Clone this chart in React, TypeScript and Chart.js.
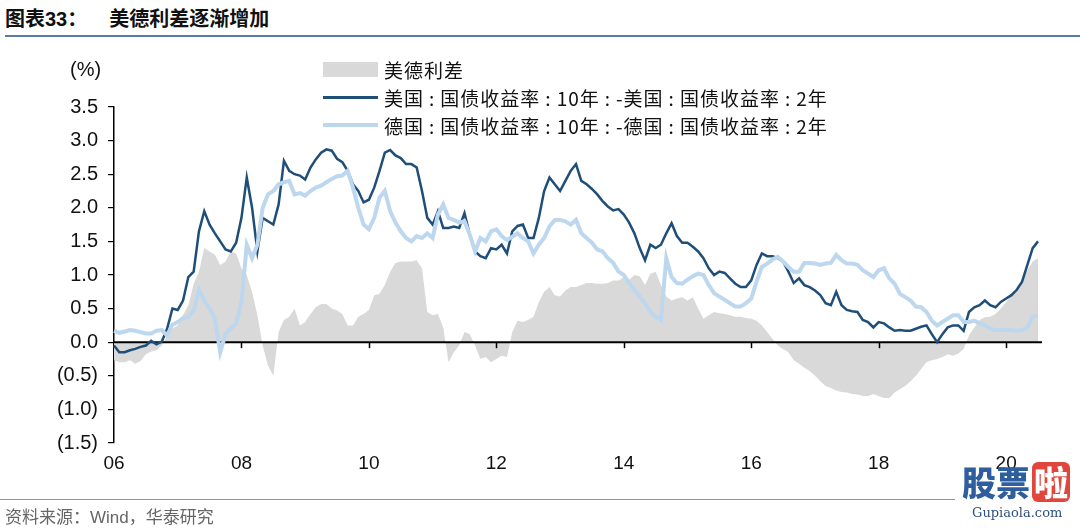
import React, { useEffect, useRef } from 'react';
import { Chart, registerables } from 'chart.js';

Chart.register(...registerables);

const months = [
  '2006-01','2006-02','2006-03','2006-04','2006-05','2006-06','2006-07','2006-08','2006-09','2006-10','2006-11','2006-12',
  '2007-01','2007-02','2007-03','2007-04','2007-05','2007-06','2007-07','2007-08','2007-09','2007-10','2007-11','2007-12',
  '2008-01','2008-02','2008-03','2008-04','2008-05','2008-06','2008-07','2008-08','2008-09','2008-10','2008-11','2008-12',
  '2009-01','2009-02','2009-03','2009-04','2009-05','2009-06','2009-07','2009-08','2009-09','2009-10','2009-11','2009-12',
  '2010-01','2010-02','2010-03','2010-04','2010-05','2010-06','2010-07','2010-08','2010-09','2010-10','2010-11','2010-12',
  '2011-01','2011-02','2011-03','2011-04','2011-05','2011-06','2011-07','2011-08','2011-09','2011-10','2011-11','2011-12',
  '2012-01','2012-02','2012-03','2012-04','2012-05','2012-06','2012-07','2012-08','2012-09','2012-10','2012-11','2012-12',
  '2013-01','2013-02','2013-03','2013-04','2013-05','2013-06','2013-07','2013-08','2013-09','2013-10','2013-11','2013-12',
  '2014-01','2014-02','2014-03','2014-04','2014-05','2014-06','2014-07','2014-08','2014-09','2014-10','2014-11','2014-12',
  '2015-01','2015-02','2015-03','2015-04','2015-05','2015-06','2015-07','2015-08','2015-09','2015-10','2015-11','2015-12',
  '2016-01','2016-02','2016-03','2016-04','2016-05','2016-06','2016-07','2016-08','2016-09','2016-10','2016-11','2016-12',
  '2017-01','2017-02','2017-03','2017-04','2017-05','2017-06','2017-07','2017-08','2017-09','2017-10','2017-11','2017-12',
  '2018-01','2018-02','2018-03','2018-04','2018-05','2018-06','2018-07','2018-08','2018-09','2018-10','2018-11','2018-12',
  '2019-01','2019-02','2019-03','2019-04','2019-05','2019-06','2019-07','2019-08','2019-09','2019-10','2019-11','2019-12',
  '2020-01','2020-02','2020-03','2020-04','2020-05','2020-06','2020-07',
];

// 美国:国债收益率:10年 - 美国:国债收益率:2年 (%)
const usSpread = [
  -0.05, -0.15, -0.15, -0.12, -0.10, -0.07, -0.05, 0.02, -0.03, 0.01,
  0.20, 0.50, 0.48, 0.62, 0.97, 1.05, 1.65, 1.95, 1.75, 1.62,
  1.50, 1.38, 1.35, 1.48, 1.85, 2.45, 2.00, 1.35, 1.85, 1.80,
  1.75, 2.05, 2.70, 2.55, 2.50, 2.48, 2.42, 2.60, 2.72, 2.82,
  2.87, 2.85, 2.73, 2.68, 2.55, 2.35, 2.25, 2.08, 2.12, 2.30,
  2.55, 2.82, 2.86, 2.78, 2.74, 2.65, 2.65, 2.60, 2.25, 1.85,
  1.75, 1.95, 1.70, 1.70, 1.72, 1.70, 1.92, 1.60, 1.35, 1.28,
  1.25, 1.40, 1.38, 1.45, 1.32, 1.65, 1.73, 1.75, 1.55, 1.55,
  1.85, 2.25, 2.45, 2.35, 2.25, 2.40, 2.55, 2.65, 2.40, 2.35,
  2.28, 2.20, 2.10, 2.02, 1.96, 1.98, 1.90, 1.78, 1.62, 1.40,
  1.22, 1.45, 1.40, 1.45, 1.62, 1.77, 1.58, 1.48, 1.48, 1.42,
  1.35, 1.25, 1.10, 1.00, 1.05, 1.03, 0.95, 0.87, 0.82, 0.82,
  0.92, 1.15, 1.32, 1.28, 1.28, 1.25, 1.20, 1.05, 0.88, 0.95,
  0.85, 0.82, 0.77, 0.70, 0.58, 0.55, 0.75, 0.55, 0.48, 0.46,
  0.45, 0.33, 0.30, 0.22, 0.30, 0.28, 0.22, 0.17, 0.18, 0.17,
  0.17, 0.20, 0.23, 0.25, 0.12, 0.00, 0.12, 0.22, 0.25, 0.25,
  0.17, 0.45, 0.52, 0.55, 0.62, 0.55, 0.52, 0.60, 0.65, 0.70,
  0.78, 0.90, 1.15, 1.40, 1.50,
];

// 德国:国债收益率:10年 - 德国:国债收益率:2年 (%)
const deSpread = [
  0.17, 0.14, 0.16, 0.18, 0.17, 0.15, 0.13, 0.13, 0.17, 0.18,
  0.10, 0.26, 0.30, 0.36, 0.38, 0.47, 0.78, 0.62, 0.50, 0.35,
  -0.15, 0.12, 0.20, 0.28, 0.60, 1.45, 1.25, 1.45, 2.00, 2.20,
  2.25, 2.35, 2.38, 2.40, 2.20, 2.22, 2.18, 2.25, 2.30, 2.33,
  2.38, 2.43, 2.47, 2.48, 2.55, 2.30, 2.00, 1.75, 1.68, 1.85,
  2.15, 2.25, 1.95, 1.78, 1.65, 1.55, 1.50, 1.58, 1.55, 1.62,
  1.55, 1.90, 2.05, 1.85, 1.82, 1.78, 1.80, 1.60, 1.35, 1.55,
  1.50, 1.65, 1.68, 1.58, 1.52, 1.57, 1.62, 1.55, 1.50, 1.32,
  1.45, 1.55, 1.72, 1.82, 1.82, 1.80, 1.75, 1.82, 1.62, 1.55,
  1.48, 1.38, 1.35, 1.25, 1.18, 1.05, 1.00, 0.88, 0.78, 0.68,
  0.58, 0.45, 0.38, 0.33, 1.25, 0.97, 0.88, 0.87, 0.93, 0.98,
  1.02, 1.00, 0.85, 0.73, 0.68, 0.63, 0.58, 0.53, 0.53, 0.58,
  0.65, 0.90, 1.12, 1.17, 1.23, 1.27, 1.20, 1.12, 1.05, 1.05,
  1.18, 1.18, 1.17, 1.15, 1.17, 1.18, 1.30, 1.22, 1.17, 1.17,
  1.15, 1.07, 1.02, 0.97, 1.07, 1.10, 0.95, 0.87, 0.72, 0.67,
  0.62, 0.53, 0.52, 0.45, 0.32, 0.25, 0.30, 0.35, 0.40, 0.40,
  0.30, 0.30, 0.32, 0.28, 0.25, 0.20, 0.18, 0.18, 0.18, 0.18,
  0.17, 0.18, 0.22, 0.38, 0.40,
];

// 美德利差 (%)
const usDeGap = [
  -0.27, -0.30, -0.30, -0.27, -0.32, -0.28, -0.18, -0.14, -0.12, -0.05,
  0.08, 0.20, 0.25, 0.40, 0.55, 0.87, 1.05, 1.40, 1.35, 1.30,
  1.15, 1.20, 1.35, 1.32, 1.10, 1.00, 0.75, 0.40, -0.05, -0.35,
  -0.50, 0.15, 0.33, 0.38, 0.50, 0.25, 0.30, 0.42, 0.52, 0.57,
  0.57, 0.50, 0.47, 0.42, 0.25, 0.25, 0.38, 0.42, 0.48, 0.70,
  0.72, 0.85, 1.05, 1.18, 1.20, 1.20, 1.20, 1.22, 1.10, 0.45,
  0.40, 0.42, 0.22, -0.30, -0.15, -0.05, 0.15, 0.12, -0.05, -0.25,
  -0.22, -0.30, -0.25, -0.20, -0.22, 0.15, 0.32, 0.30, 0.33, 0.38,
  0.60, 0.75, 0.82, 0.70, 0.68, 0.77, 0.82, 0.82, 0.85, 0.88,
  0.88, 0.87, 0.87, 0.88, 0.92, 0.92, 0.97, 0.93, 1.00, 0.98,
  0.85, 1.02, 1.05, 0.85, 0.68, 0.62, 0.65, 0.67, 0.62, 0.67,
  0.50, 0.35, 0.40, 0.45, 0.43, 0.42, 0.40, 0.38, 0.38, 0.36,
  0.35, 0.32, 0.25, 0.15, 0.05, -0.05, -0.10, -0.15, -0.27, -0.32,
  -0.38, -0.43, -0.50, -0.58, -0.65, -0.68, -0.72, -0.74, -0.75, -0.77,
  -0.78, -0.80, -0.80, -0.77, -0.80, -0.83, -0.83, -0.75, -0.70, -0.65,
  -0.58, -0.50, -0.40, -0.30, -0.27, -0.25, -0.22, -0.18, -0.20, -0.17,
  -0.10, 0.10, 0.22, 0.33, 0.37, 0.38, 0.42, 0.50, 0.60, 0.70,
  0.77, 0.90, 1.07, 1.20, 1.25,
];

const xTickMonths = ['2006-01', '2008-01', '2010-01', '2012-01', '2014-01', '2016-01', '2018-01', '2020-01'];
const xTickText = ['06', '08', '10', '12', '14', '16', '18', '20'];

const seriesNames = [
  '美德利差',
  '美国:国债收益率:10年:-美国:国债收益率:2年',
  '德国:国债收益率:10年:-德国:国债收益率:2年',
];

const GRAY = '#D9D9D9';
const NAVY = '#1F4E79';
const LIGHT = '#BDD7EE';
const NUM_FONT = '"Liberation Sans", Arial, sans-serif';
const CJK_FONT = '"Noto Sans CJK SC", "Liberation Sans", sans-serif';

const zeroAxisPlugin = {
  id: 'zeroAxis',
  afterDatasetDraw(chart: any, args: any) {
    if (args.index !== 0) return;
    const { ctx, chartArea, scales } = chart;
    const y0 = scales.y.getPixelForValue(0);
    ctx.save();
    ctx.strokeStyle = '#000';
    ctx.lineWidth = 2;
    ctx.beginPath();
    ctx.moveTo(chartArea.left, y0);
    ctx.lineTo(chartArea.right + 4, y0);
    ctx.stroke();
    ctx.lineWidth = 1.5;
    xTickMonths.forEach((m) => {
      const i = months.indexOf(m);
      if (i <= 0) return;
      const x = Math.round(scales.x.getPixelForValue(i)) + 0.5;
      ctx.beginPath();
      ctx.moveTo(x, y0);
      ctx.lineTo(x, y0 + 6);
      ctx.stroke();
    });
    ctx.restore();
  },
};

function LegendText({ text }: { text: string }) {
  const parts = text.split(':');
  return (
    <span>
      {parts.map((p, i) => (
        <React.Fragment key={i}>
          {i > 0 && <span style={{ margin: '0 5px' }}>:</span>}
          {p}
        </React.Fragment>
      ))}
    </span>
  );
}

export default function App() {
  const canvasRef = useRef<HTMLCanvasElement | null>(null);

  useEffect(() => {
    if (!canvasRef.current) return;
    const chart = new Chart(canvasRef.current, {
      type: 'line',
      data: {
        labels: months,
        datasets: [
          {
            label: seriesNames[0],
            data: usDeGap,
            borderWidth: 0,
            borderColor: GRAY,
            backgroundColor: GRAY,
            fill: 'origin',
            pointRadius: 0,
            tension: 0,
            order: 3,
          },
          {
            label: seriesNames[1],
            data: usSpread,
            borderColor: NAVY,
            borderWidth: 2.5,
            fill: false,
            pointRadius: 0,
            tension: 0,
            order: 2,
          },
          {
            label: seriesNames[2],
            data: deSpread,
            borderColor: LIGHT,
            borderWidth: 4,
            fill: false,
            pointRadius: 0,
            tension: 0,
            order: 1,
          },
        ],
      },
      options: {
        animation: false,
        responsive: false,
        layout: { padding: { left: 0, right: 42, top: 107, bottom: 45 } },
        plugins: {
          legend: { display: false },
          title: { display: false },
          tooltip: { enabled: false },
        },
        scales: {
          x: {
            type: 'category',
            grid: { display: false, drawTicks: false },
            border: { display: false },
            afterFit: (s: any) => {
              s.height = 40;
            },
            ticks: {
              autoSkip: false,
              maxRotation: 0,
              minRotation: 0,
              padding: 9,
              color: '#111',
              font: { family: NUM_FONT, size: 19 },
              callback: (_v: any, index: number) => {
                const k = xTickMonths.indexOf(months[index]);
                return k >= 0 ? xTickText[k] : '';
              },
            },
          },
          y: {
            min: -1.5,
            max: 3.5,
            afterFit: (s: any) => {
              s.width = 114;
            },
            grid: {
              drawOnChartArea: false,
              drawTicks: true,
              tickLength: 6,
              color: '#000',
              lineWidth: 1.2,
            },
            border: { display: true, color: '#000', width: 1.5 },
            ticks: {
              stepSize: 0.5,
              padding: 10,
              color: '#111',
              font: { family: NUM_FONT, size: 20 },
              callback: (v: any) => {
                const n = Number(v);
                return n < 0 ? `(${Math.abs(n).toFixed(1)})` : n.toFixed(1);
              },
            },
          },
        },
      },
      plugins: [zeroAxisPlugin],
    } as any);
    return () => chart.destroy();
  }, []);

  const legendRow = (top: number, swatch: React.ReactNode, text: string) => (
    <div
      style={{
        position: 'absolute',
        left: 323,
        top: top - 14,
        height: 28,
        display: 'flex',
        alignItems: 'center',
        fontFamily: CJK_FONT,
        fontSize: 19,
        color: '#111',
        whiteSpace: 'nowrap',
        letterSpacing: 1,
      }}
    >
      <div style={{ width: 55, display: 'flex', alignItems: 'center', marginRight: 6 }}>{swatch}</div>
      <LegendText text={text} />
    </div>
  );

  return (
    <div
      style={{
        position: 'absolute',
        left: 0,
        top: 0,
        width: 1080,
        height: 528,
        background: '#fff',
        overflow: 'hidden',
      }}
    >
      {/* title */}
      <div
        style={{
          position: 'absolute',
          left: 5,
          top: 4,
          fontFamily: CJK_FONT,
          fontWeight: 700,
          fontSize: 20,
          color: '#111',
          whiteSpace: 'nowrap',
          lineHeight: '28px',
        }}
      >
        图表<span style={{ fontFamily: NUM_FONT }}>33</span>：<span style={{ marginLeft: 22 }}>美德利差逐渐增加</span>
      </div>
      <div style={{ position: 'absolute', left: 5, top: 35, width: 1075, height: 2, background: '#5B7BA6' }} />

      <canvas ref={canvasRef} width={1080} height={528} style={{ position: 'absolute', left: 0, top: 0 }} />

      {/* unit */}
      <div
        style={{
          position: 'absolute',
          left: 70,
          top: 58,
          fontFamily: NUM_FONT,
          fontSize: 20,
          color: '#111',
        }}
      >
        (%)
      </div>

      {/* legend */}
      {legendRow(69, <div style={{ width: 55, height: 15, background: GRAY }} />, seriesNames[0])}
      {legendRow(97, <div style={{ width: 55, height: 3, background: NAVY }} />, seriesNames[1])}
      {legendRow(125, <div style={{ width: 55, height: 4, background: LIGHT }} />, seriesNames[2])}

      {/* footer */}
      <div style={{ position: 'absolute', left: 0, top: 499, width: 955, height: 1, background: '#7F97B8' }} />
      <div
        style={{
          position: 'absolute',
          left: 5,
          top: 504,
          fontFamily: CJK_FONT,
          fontSize: 17,
          color: '#666',
          whiteSpace: 'nowrap',
          lineHeight: '24px',
        }}
      >
        资料来源：<span style={{ fontFamily: NUM_FONT }}>Wind</span>，华泰研究
      </div>

      {/* watermark */}
      <div
        style={{
          position: 'absolute',
          left: 962,
          top: 462,
          display: 'flex',
          alignItems: 'center',
          fontFamily: CJK_FONT,
          fontWeight: 900,
          fontSize: 34,
          lineHeight: '40px',
        }}
      >
        <span style={{ color: '#2E5E9E' }}>股票</span>
        <span
          style={{
            color: '#fff',
            background: '#E0463C',
            borderRadius: 6,
            marginLeft: 2,
            padding: '0 2px',
          }}
        >
          啦
        </span>
      </div>
      <div
        style={{
          position: 'absolute',
          left: 972,
          top: 504,
          fontFamily: '"DejaVu Serif", serif',
          fontSize: 13,
          color: '#2E4F7E',
          lineHeight: '18px',
        }}
      >
        Gupiaola.com
      </div>
    </div>
  );
}
